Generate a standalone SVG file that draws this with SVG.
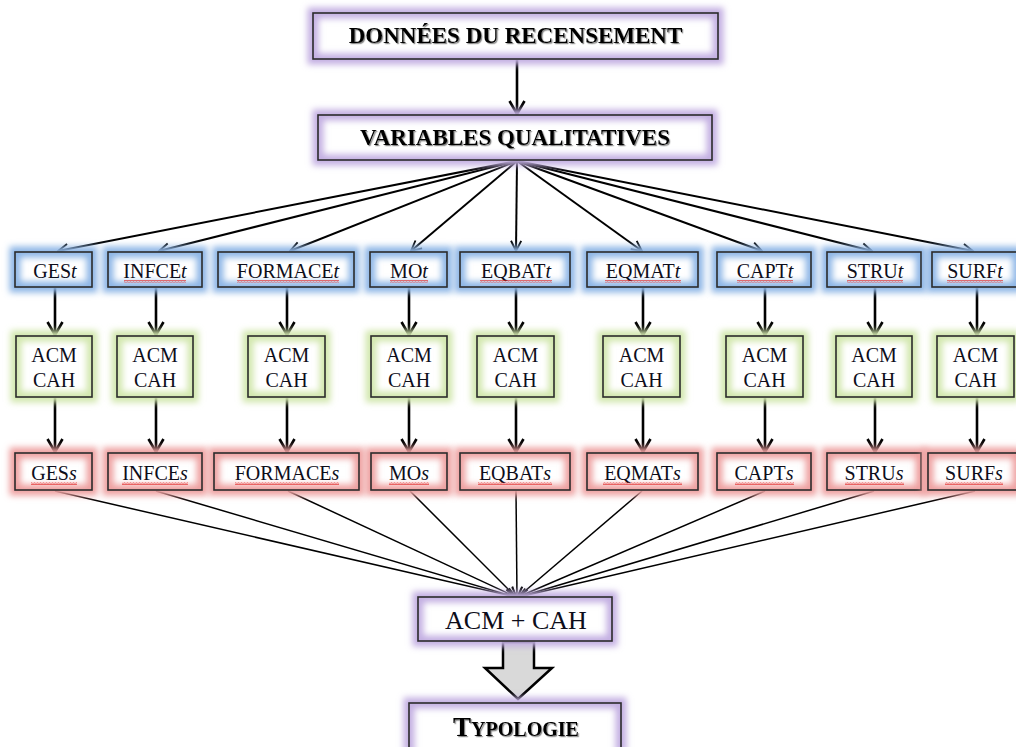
<svg xmlns="http://www.w3.org/2000/svg" width="1016" height="747" viewBox="0 0 1016 747">
<defs>
<style>
.lbl{font-family:"Liberation Serif","Times New Roman",serif;font-size:20px;fill:#0d0d1a;text-anchor:middle}
.ttl{font-family:"Liberation Serif","Times New Roman",serif;font-weight:bold;font-size:23px;fill:#000;text-anchor:middle}
.big{font-family:"Liberation Serif","Times New Roman",serif;font-size:26px;fill:#0d0d1a;text-anchor:middle}
.it{font-style:italic}
.box{fill:none;stroke:#2b2b2b;stroke-width:1.6}
.bg{fill:#fff}
.gb{fill:none;stroke:#8db6e6;stroke-width:11;filter:url(#blur)}
.gg{fill:none;stroke:#d2e7ad;stroke-width:11;filter:url(#blur)}
.gr{fill:none;stroke:#eea0a0;stroke-width:11;filter:url(#blur)}
.gp{fill:none;stroke:#c3afe2;stroke-width:11;filter:url(#blur)}
.sq{fill:url(#wave)}
.fan{stroke:#000;stroke-width:2;fill:none;marker-end:url(#ah)}
.vert{stroke:#000;stroke-width:2.6;fill:none;marker-end:url(#ahb)}
.conv{stroke:#000;stroke-width:1.5;fill:none;marker-end:url(#ahs)}
</style>
<filter id="blur" x="-30%" y="-60%" width="160%" height="220%"><feGaussianBlur stdDeviation="3"/></filter>
<filter id="shadow" x="-5%" y="-30%" width="110%" height="160%"><feDropShadow dx="1.2" dy="1.2" stdDeviation="0.6" flood-color="#555" flood-opacity="0.7"/></filter>
<pattern id="wave" width="3" height="3" patternUnits="userSpaceOnUse"><path d="M0,2.4 L0.75,0.6 L1.5,2.4 L2.25,0.6 L3,2.4" fill="none" stroke="#e02020" stroke-width="0.6"/></pattern>
<marker id="ah" viewBox="0 0 14 14" refX="12.5" refY="7" markerWidth="13" markerHeight="13" markerUnits="userSpaceOnUse" orient="auto"><path d="M1.5,1.5 L12.5,7 L1.5,12.5" fill="none" stroke="#000" stroke-width="2"/></marker>
<marker id="ahb" viewBox="0 0 16 18" refX="14.5" refY="9" markerWidth="16" markerHeight="18" markerUnits="userSpaceOnUse" orient="auto"><path d="M1.5,1.5 L14.5,9 L1.5,16.5" fill="none" stroke="#000" stroke-width="2.6"/></marker>
<marker id="ahs" viewBox="0 0 12 12" refX="11" refY="6" markerWidth="12" markerHeight="12" markerUnits="userSpaceOnUse" orient="auto"><path d="M1,1 L11,6 L1,11" fill="none" stroke="#000" stroke-width="1.6"/></marker>
</defs>
<rect width="1016" height="747" fill="#fff"/>

<g id="connectors">
<line class="vert" x1="517" y1="60" x2="517" y2="114"/>
<line class="fan" x1="517" y1="161" x2="58" y2="251"/>
<line class="fan" x1="517" y1="161" x2="159" y2="251"/>
<line class="fan" x1="517" y1="161" x2="290" y2="251"/>
<line class="fan" x1="517" y1="161" x2="411" y2="251"/>
<line class="fan" x1="517" y1="161" x2="516" y2="251"/>
<line class="fan" x1="517" y1="161" x2="642" y2="251"/>
<line class="fan" x1="517" y1="161" x2="762" y2="251"/>
<line class="fan" x1="517" y1="161" x2="872" y2="251"/>
<line class="fan" x1="517" y1="161" x2="973" y2="251"/>
<line class="vert" x1="55" y1="288" x2="55" y2="335"/>
<line class="vert" x1="156" y1="288" x2="156" y2="335"/>
<line class="vert" x1="287" y1="288" x2="287" y2="335"/>
<line class="vert" x1="409" y1="288" x2="409" y2="335"/>
<line class="vert" x1="516" y1="288" x2="516" y2="335"/>
<line class="vert" x1="643" y1="288" x2="643" y2="335"/>
<line class="vert" x1="765" y1="288" x2="765" y2="335"/>
<line class="vert" x1="875" y1="288" x2="875" y2="335"/>
<line class="vert" x1="977" y1="288" x2="977" y2="335"/>
<line class="vert" x1="55" y1="398" x2="55" y2="452"/>
<line class="vert" x1="156" y1="398" x2="156" y2="452"/>
<line class="vert" x1="287" y1="398" x2="287" y2="452"/>
<line class="vert" x1="409" y1="398" x2="409" y2="452"/>
<line class="vert" x1="516" y1="398" x2="516" y2="452"/>
<line class="vert" x1="643" y1="398" x2="643" y2="452"/>
<line class="vert" x1="765" y1="398" x2="765" y2="452"/>
<line class="vert" x1="875" y1="398" x2="875" y2="452"/>
<line class="vert" x1="977" y1="398" x2="977" y2="452"/>
<line class="conv" x1="55" y1="491" x2="515" y2="597"/>
<line class="conv" x1="156" y1="491" x2="515" y2="597"/>
<line class="conv" x1="288" y1="491" x2="516" y2="597"/>
<line class="conv" x1="410" y1="491" x2="516" y2="597"/>
<line class="conv" x1="516" y1="491" x2="517" y2="597"/>
<line class="conv" x1="642" y1="491" x2="518" y2="597"/>
<line class="conv" x1="765" y1="491" x2="518" y2="597"/>
<line class="conv" x1="874" y1="491" x2="519" y2="597"/>
<line class="conv" x1="975" y1="491" x2="519" y2="597"/>
<polygon points="503,642 534,642 534,668 552,668 518,699 485,668 503,668" fill="#d9d9d9" stroke="#000" stroke-width="2.5" stroke-linejoin="miter"/>
</g>

<g id="donnees">
<rect class="bg" x="313" y="13" width="405" height="46"/><rect class="gp" x="313" y="13" width="405" height="46"/><rect class="box" x="313" y="13" width="405" height="46"/>
<text class="ttl" x="515.5" y="43" filter="url(#shadow)">DONNÉES DU RECENSEMENT</text>
</g>
<g id="variables">
<rect class="bg" x="318" y="115" width="394" height="45"/><rect class="gp" x="318" y="115" width="394" height="45"/><rect class="box" x="318" y="115" width="394" height="45"/>
<text class="ttl" x="515" y="145" filter="url(#shadow)">VARIABLES QUALITATIVES</text>
</g>

<g id="gest"><rect class="bg" x="15" y="252" width="77" height="35"/><rect class="gb" x="15" y="252" width="77" height="35"/><rect class="box" x="15" y="252" width="77" height="35"/><text class="lbl" x="55" y="278">GES<tspan class="it">t</tspan></text></g>
<g id="infcet"><rect class="bg" x="108" y="252" width="94" height="35"/><rect class="gb" x="108" y="252" width="94" height="35"/><rect class="box" x="108" y="252" width="94" height="35"/><text class="lbl" x="155" y="278">INFCE<tspan class="it">t</tspan></text><rect class="sq" x="124" y="280" width="62" height="3"/></g>
<g id="formacet"><rect class="bg" x="218" y="252" width="136" height="35"/><rect class="gb" x="218" y="252" width="136" height="35"/><rect class="box" x="218" y="252" width="136" height="35"/><text class="lbl" x="288" y="278">FORMACE<tspan class="it">t</tspan></text><rect class="sq" x="237" y="280" width="102" height="3"/></g>
<g id="mot"><rect class="bg" x="370" y="252" width="77" height="35"/><rect class="gb" x="370" y="252" width="77" height="35"/><rect class="box" x="370" y="252" width="77" height="35"/><text class="lbl" x="409" y="278">MO<tspan class="it">t</tspan></text><rect class="sq" x="390" y="280" width="38" height="3"/></g>
<g id="eqbatt"><rect class="bg" x="460" y="252" width="110" height="35"/><rect class="gb" x="460" y="252" width="110" height="35"/><rect class="box" x="460" y="252" width="110" height="35"/><text class="lbl" x="516" y="278">EQBAT<tspan class="it">t</tspan></text><rect class="sq" x="480" y="280" width="72" height="3"/></g>
<g id="eqmatt"><rect class="bg" x="587" y="252" width="111" height="35"/><rect class="gb" x="587" y="252" width="111" height="35"/><rect class="box" x="587" y="252" width="111" height="35"/><text class="lbl" x="643" y="278">EQMAT<tspan class="it">t</tspan></text><rect class="sq" x="605" y="280" width="76" height="3"/></g>
<g id="captt"><rect class="bg" x="717" y="252" width="94" height="35"/><rect class="gb" x="717" y="252" width="94" height="35"/><rect class="box" x="717" y="252" width="94" height="35"/><text class="lbl" x="765" y="278">CAPT<tspan class="it">t</tspan></text><rect class="sq" x="737" y="280" width="56" height="3"/></g>
<g id="strut"><rect class="bg" x="827" y="252" width="94" height="35"/><rect class="gb" x="827" y="252" width="94" height="35"/><rect class="box" x="827" y="252" width="94" height="35"/><text class="lbl" x="875" y="278">STRU<tspan class="it">t</tspan></text><rect class="sq" x="847" y="280" width="56" height="3"/></g>
<g id="surft"><rect class="bg" x="932" y="252" width="86" height="35"/><rect class="gb" x="932" y="252" width="86" height="35"/><rect class="box" x="932" y="252" width="86" height="35"/><text class="lbl" x="975" y="278">SURF<tspan class="it">t</tspan></text><rect class="sq" x="947" y="280" width="56" height="3"/></g>

<g id="acm1"><rect class="bg" x="16" y="336" width="76" height="61"/><rect class="gg" x="16" y="336" width="76" height="61"/><rect class="box" x="16" y="336" width="76" height="61"/><text class="lbl" x="54" y="362">ACM</text><text class="lbl" x="54" y="387">CAH</text></g>
<g id="acm2"><rect class="bg" x="117" y="336" width="76" height="61"/><rect class="gg" x="117" y="336" width="76" height="61"/><rect class="box" x="117" y="336" width="76" height="61"/><text class="lbl" x="155" y="362">ACM</text><text class="lbl" x="155" y="387">CAH</text></g>
<g id="acm3"><rect class="bg" x="248" y="336" width="77" height="61"/><rect class="gg" x="248" y="336" width="77" height="61"/><rect class="box" x="248" y="336" width="77" height="61"/><text class="lbl" x="286.5" y="362">ACM</text><text class="lbl" x="286.5" y="387">CAH</text></g>
<g id="acm4"><rect class="bg" x="371" y="336" width="76" height="61"/><rect class="gg" x="371" y="336" width="76" height="61"/><rect class="box" x="371" y="336" width="76" height="61"/><text class="lbl" x="409" y="362">ACM</text><text class="lbl" x="409" y="387">CAH</text></g>
<g id="acm5"><rect class="bg" x="477" y="336" width="77" height="61"/><rect class="gg" x="477" y="336" width="77" height="61"/><rect class="box" x="477" y="336" width="77" height="61"/><text class="lbl" x="515.5" y="362">ACM</text><text class="lbl" x="515.5" y="387">CAH</text></g>
<g id="acm6"><rect class="bg" x="603" y="336" width="77" height="61"/><rect class="gg" x="603" y="336" width="77" height="61"/><rect class="box" x="603" y="336" width="77" height="61"/><text class="lbl" x="641.5" y="362">ACM</text><text class="lbl" x="641.5" y="387">CAH</text></g>
<g id="acm7"><rect class="bg" x="726" y="336" width="77" height="61"/><rect class="gg" x="726" y="336" width="77" height="61"/><rect class="box" x="726" y="336" width="77" height="61"/><text class="lbl" x="764.5" y="362">ACM</text><text class="lbl" x="764.5" y="387">CAH</text></g>
<g id="acm8"><rect class="bg" x="836" y="336" width="76" height="61"/><rect class="gg" x="836" y="336" width="76" height="61"/><rect class="box" x="836" y="336" width="76" height="61"/><text class="lbl" x="874" y="362">ACM</text><text class="lbl" x="874" y="387">CAH</text></g>
<g id="acm9"><rect class="bg" x="937" y="336" width="77" height="61"/><rect class="gg" x="937" y="336" width="77" height="61"/><rect class="box" x="937" y="336" width="77" height="61"/><text class="lbl" x="975.5" y="362">ACM</text><text class="lbl" x="975.5" y="387">CAH</text></g>

<g id="gess"><rect class="bg" x="15" y="453" width="77" height="37"/><rect class="gr" x="15" y="453" width="77" height="37"/><rect class="box" x="15" y="453" width="77" height="37"/><text class="lbl" x="54" y="480">GES<tspan class="it">s</tspan></text><rect class="sq" x="31" y="482" width="46" height="3"/></g>
<g id="infces"><rect class="bg" x="108" y="453" width="94" height="37"/><rect class="gr" x="108" y="453" width="94" height="37"/><rect class="box" x="108" y="453" width="94" height="37"/><text class="lbl" x="155" y="480">INFCE<tspan class="it">s</tspan></text><rect class="sq" x="122" y="482" width="66" height="3"/></g>
<g id="formaces"><rect class="bg" x="214" y="453" width="145" height="37"/><rect class="gr" x="214" y="453" width="145" height="37"/><rect class="box" x="214" y="453" width="145" height="37"/><text class="lbl" x="287" y="480">FORMACE<tspan class="it">s</tspan></text><rect class="sq" x="235" y="482" width="104" height="3"/></g>
<g id="mos"><rect class="bg" x="371" y="453" width="76" height="37"/><rect class="gr" x="371" y="453" width="76" height="37"/><rect class="box" x="371" y="453" width="76" height="37"/><text class="lbl" x="409" y="480">MO<tspan class="it">s</tspan></text><rect class="sq" x="389" y="482" width="40" height="3"/></g>
<g id="eqbats"><rect class="bg" x="460" y="453" width="110" height="37"/><rect class="gr" x="460" y="453" width="110" height="37"/><rect class="box" x="460" y="453" width="110" height="37"/><text class="lbl" x="515" y="480">EQBAT<tspan class="it">s</tspan></text><rect class="sq" x="478" y="482" width="74" height="3"/></g>
<g id="eqmats"><rect class="bg" x="587" y="453" width="111" height="37"/><rect class="gr" x="587" y="453" width="111" height="37"/><rect class="box" x="587" y="453" width="111" height="37"/><text class="lbl" x="642.5" y="480">EQMAT<tspan class="it">s</tspan></text><rect class="sq" x="603" y="482" width="79" height="3"/></g>
<g id="capts"><rect class="bg" x="717" y="453" width="94" height="37"/><rect class="gr" x="717" y="453" width="94" height="37"/><rect class="box" x="717" y="453" width="94" height="37"/><text class="lbl" x="764" y="480">CAPT<tspan class="it">s</tspan></text><rect class="sq" x="735" y="482" width="59" height="3"/></g>
<g id="strus"><rect class="bg" x="827" y="453" width="94" height="37"/><rect class="gr" x="827" y="453" width="94" height="37"/><rect class="box" x="827" y="453" width="94" height="37"/><text class="lbl" x="874" y="480">STRU<tspan class="it">s</tspan></text><rect class="sq" x="845" y="482" width="59" height="3"/></g>
<g id="surfs"><rect class="bg" x="928" y="453" width="90" height="37"/><rect class="gr" x="928" y="453" width="90" height="37"/><rect class="box" x="928" y="453" width="90" height="37"/><text class="lbl" x="974" y="480">SURF<tspan class="it">s</tspan></text><rect class="sq" x="945" y="482" width="58" height="3"/></g>

<g id="acmcah">
<rect class="bg" x="418" y="597" width="194" height="44"/><rect class="gp" x="418" y="597" width="194" height="44"/><rect class="box" x="418" y="597" width="194" height="44"/>
<text class="big" x="516" y="629">ACM + CAH</text>
</g>
<g id="typologie">
<rect class="bg" x="409" y="703" width="212" height="60"/><rect class="gp" x="409" y="703" width="212" height="60"/><rect class="box" x="409" y="703" width="212" height="60"/>
<text class="ttl" x="516" y="736" filter="url(#shadow)"><tspan style="font-size:27px">T</tspan><tspan style="font-size:20px">YPOLOGIE</tspan></text>
</g>
</svg>
